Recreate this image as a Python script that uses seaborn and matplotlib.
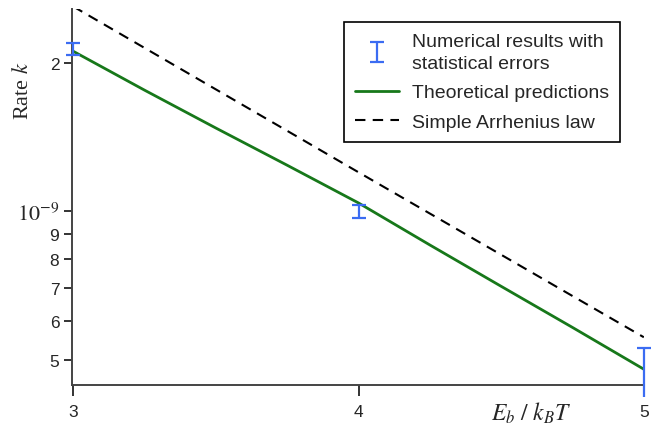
import numpy as np
import pandas as pd
import seaborn as sns
import matplotlib.pyplot as plt

# values (rate in units of 1e-9)
x_theory = [3.0, 3.25, 3.5, 3.75, 4.0, 4.25, 4.5, 4.75, 5.0]
k_theory = [2.11, 1.76, 1.475, 1.24, 1.04, 0.855, 0.705, 0.582, 0.479]

x_arrhenius = [3.0, 4.0, 5.0]
k_arrhenius = [2.60, 1.20, 0.556]

x_num = [3.0, 4.0, 5.0]
k_num = [2.135, 0.997, 0.470]
err_low = [0.058, 0.029, 0.049]
err_high = [0.060, 0.031, 0.058]

y_ticks = [0.5, 0.6, 0.7, 0.8, 0.9, 1.0, 2.0]
y_tick_labels = ['5', '6', '7', '8', '9', r'$10^{-9}$', '2']

sns.set_style('ticks')
plt.rcParams['font.family'] = ['Liberation Sans', 'DejaVu Sans']
plt.rcParams['mathtext.fontset'] = 'stix'

scale = 1e-9
df_theory = pd.DataFrame({'x': x_theory, 'k': np.array(k_theory) * scale})
df_arr = pd.DataFrame({'x': x_arrhenius, 'k': np.array(k_arrhenius) * scale})

fig = plt.figure(figsize=(6.59, 4.31), dpi=100)
ax = fig.add_axes([0.109, 0.1044, 0.868, 0.8724])

err = ax.errorbar(x_num, np.array(k_num) * scale,
                  yerr=[np.array(err_low) * scale, np.array(err_high) * scale],
                  fmt='none', ecolor='#3b6cf2', elinewidth=1.6, capsize=5,
                  capthick=1.6, clip_on=False, zorder=4,
                  label='Numerical results with\nstatistical errors')
for art in err.lines[1]:
    art.set_clip_on(False)
for art in err.lines[2]:
    art.set_clip_on(False)
# the lowest cap of the last point falls outside the plot in the reference
low_cap = err.lines[1][0]
yd = np.array(low_cap.get_ydata(), dtype=float)
yd[-1] = np.nan
low_cap.set_ydata(yd)

sns.lineplot(data=df_theory, x='x', y='k', ax=ax, color='#17781a', linewidth=2.0,
             label='Theoretical predictions')
sns.lineplot(data=df_arr, x='x', y='k', ax=ax, color='black', linewidth=1.5,
             linestyle=(0, (5, 3.5)), label='Simple Arrhenius law')

ax.set_yscale('log')
ax.set_xlim(2.995, 5.0)
ax.set_ylim(4.45e-10, 2.57e-9)

ax.set_xticks([3, 4, 5])
ax.set_xticklabels(['3', '4', '5'], fontsize=12.5)
ax.yaxis.set_minor_locator(plt.NullLocator())
ax.set_yticks([v * scale for v in y_ticks])
ax.set_yticklabels(y_tick_labels, fontsize=12.5)
for lab in ax.get_yticklabels():
    if lab.get_text().startswith('$'):
        lab.set_fontsize(16)

ax.tick_params(axis='x', length=8, width=1.4, color='#333333', pad=6)
ax.tick_params(axis='y', length=6, width=1.4, color='#333333', pad=3)
for side in ['top', 'right']:
    ax.spines[side].set_visible(False)
for side in ['left', 'bottom']:
    ax.spines[side].set_color('#444444')
    ax.spines[side].set_linewidth(1.4)

ax.set_xlabel('')
ax.set_ylabel(r'Rate $k$', fontsize=16, family=['Liberation Serif', 'DejaVu Serif'])
ax.yaxis.set_label_coords(-0.068, 0.785)
ax.text(0.874, -0.072, r'$E_b\ /\ k_BT$', transform=ax.transAxes, fontsize=17,
        ha='right', va='center')

handles, labels = ax.get_legend_handles_labels()
order = [labels.index('Numerical results with\nstatistical errors'),
         labels.index('Theoretical predictions'),
         labels.index('Simple Arrhenius law')]
leg = ax.legend([handles[i] for i in order], [labels[i] for i in order],
                loc='upper right', bbox_to_anchor=(0.958, 0.965), fontsize=14,
                frameon=True, fancybox=False, framealpha=1, edgecolor='black',
                handlelength=2.3, handletextpad=0.65, labelspacing=0.62,
                borderpad=0.55, borderaxespad=0)
for t in leg.get_texts():
    t.set_linespacing(1.38)
leg.get_frame().set_linewidth(1.2)

fig.savefig('out.png', dpi=100)
